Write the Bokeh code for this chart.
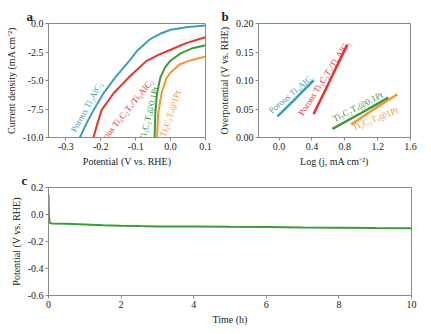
from bokeh.plotting import figure
from bokeh.models import Range1d, FixedTicker, NumeralTickFormatter
from bokeh.layouts import column, row
from bokeh.embed import file_html
from bokeh.resources import INLINE
from bokeh.core.properties import value

# ---------------- data ----------------
# panel a: polarization curves (potential V vs RHE, current density mA cm-2)
teal_a_x = [-0.26, -0.24, -0.221, -0.192, -0.158, -0.119, -0.096, -0.06, -0.03, 0.0, 0.05, 0.1]
teal_a_y = [-10.0, -8.7, -7.6, -6.1, -4.7, -3.3, -2.4, -1.4, -0.9, -0.55, -0.3, -0.17]
red_a_x = [-0.221, -0.212, -0.198, -0.163, -0.119, -0.07, -0.035, 0.0, 0.046, 0.1]
red_a_y = [-10.0, -9.0, -7.6, -6.1, -4.7, -3.3, -2.75, -2.3, -1.7, -1.2]
green_a_x = [-0.046, -0.044, -0.039, -0.029, -0.015, 0.0, 0.03, 0.06, 0.1]
green_a_y = [-10.0, -8.0, -6.1, -4.7, -3.8, -3.25, -2.6, -2.2, -1.9]
orange_a_x = [-0.039, -0.036, -0.026, -0.012, 0.0, 0.025, 0.05, 0.075, 0.1]
orange_a_y = [-10.0, -8.0, -6.1, -4.8, -4.3, -3.6, -3.3, -3.1, -2.9]

# panel b: Tafel lines (log j, overpotential)
teal_b_x = [-0.02, 0.2, 0.42]
teal_b_y = [0.037, 0.068, 0.100]
red_b_x = [0.42, 0.62, 0.83]
red_b_y = [0.041, 0.100, 0.163]
green_b_x = [0.65, 1.0, 1.33]
green_b_y = [0.015, 0.043, 0.070]
orange_b_x = [0.88, 1.15, 1.44]
orange_b_y = [0.023, 0.049, 0.076]

# panel c: chronopotentiometry (time h, potential V vs RHE)
time_c = [0.0, 0.01, 0.03, 0.1, 0.5, 1.0, 1.5, 2.0, 2.5, 3.0, 4.0, 5.0, 6.0, 7.0, 8.0, 9.0, 10.0]
pot_c = [0.15, 0.0, -0.062, -0.066, -0.069, -0.074, -0.079, -0.083, -0.086, -0.088, -0.088, -0.091, -0.093, -0.096, -0.098, -0.100, -0.101]

# ticks
a_xticks = [-0.3, -0.2, -0.1, 0.0, 0.1]
a_yticks = [0.0, -2.5, -5.0, -7.5, -10.0]
b_xticks = [0.0, 0.4, 0.8, 1.2, 1.6]
b_yticks = [0.0, 0.05, 0.10, 0.15, 0.20]
c_xticks = [0, 2, 4, 6, 8, 10]
c_yticks = [0.2, 0.0, -0.2, -0.4, -0.6]

TEAL = "#3f9fb0"
RED = "#e8342c"
GREEN = "#3a9a3c"
ORANGE = "#f49633"
SERIF = "Liberation Serif"
AX = "#8a8a8a"


def style(p, xticks, yticks, xfmt, yfmt, xlabel, ylabel):
    p.outline_line_color = AX
    p.outline_line_width = 1
    p.xgrid.visible = False
    p.ygrid.visible = False
    p.xaxis.ticker = FixedTicker(ticks=xticks)
    p.yaxis.ticker = FixedTicker(ticks=yticks)
    p.xaxis.formatter = NumeralTickFormatter(format=xfmt)
    p.yaxis.formatter = NumeralTickFormatter(format=yfmt)
    p.xaxis.axis_label = xlabel
    p.yaxis.axis_label = ylabel
    for ax in (p.xaxis[0], p.yaxis[0]):
        ax.axis_line_color = AX
        ax.major_tick_line_color = AX
        ax.minor_tick_line_color = None
        ax.major_tick_out = 3
        ax.major_tick_in = 0
        ax.major_label_text_font = SERIF
        ax.major_label_text_font_size = "10px"
        ax.major_label_text_color = "#222222"
        ax.axis_label_text_font = SERIF
        ax.axis_label_text_font_size = "10px"
        ax.axis_label_text_font_style = "normal"
        ax.axis_label_text_color = "#222222"
        ax.major_label_standoff = 2
        ax.axis_label_standoff = 3
    p.background_fill_color = "white"
    p.border_fill_color = "white"


def panel_label(p, txt, offset):
    p.title.text = txt
    p.title.text_font = SERIF
    p.title.text_font_size = "13px"
    p.title.text_font_style = "bold"
    p.title.text_color = "#222222"
    p.title.align = "left"
    p.title.offset = offset
    p.title.standoff = 0


def curve_text(p, x, y, txt, ang, color):
    p.text(x=[x], y=[y], text=[txt], angle=ang, angle_units="deg",
           text_color=color, text_font=value(SERIF), text_font_size="9px",
           text_align="center", text_baseline="middle")


# ---------------- panel a ----------------
pa = figure(width=215, height=170, output_backend="svg", toolbar_location=None,
            x_range=Range1d(-0.35, 0.1), y_range=Range1d(-10.0, 0.0),
            min_border_left=48, min_border_right=10, min_border_top=22, min_border_bottom=32)
style(pa, a_xticks, a_yticks, "0.0", "0.0", "Potential (V vs. RHE)", "Current density (mA cm⁻²)")
pa.line(teal_a_x, teal_a_y, line_color=TEAL, line_width=2)
pa.line(red_a_x, red_a_y, line_color=RED, line_width=2)
pa.line(green_a_x, green_a_y, line_color=GREEN, line_width=2)
pa.line(orange_a_x, orange_a_y, line_color=ORANGE, line_width=2)
curve_text(pa, -0.24, -7.3, "Porous Ti₃AlC₂", 61, TEAL)
curve_text(pa, -0.133, -7.9, "Porous Ti₃C₂Tₓ/Ti₃AlC₂", 51, RED)
curve_text(pa, -0.062, -7.9, "Ti₃C₂Tₓ@0.1Pt", 76, GREEN)
curve_text(pa, -0.001, -7.9, "Ti₃C₂Tₓ@1Pt", 71, ORANGE)
panel_label(pa, "a", -22)

# ---------------- panel b ----------------
pb = figure(width=216, height=170, output_backend="svg", toolbar_location=None,
            x_range=Range1d(-0.25, 1.6), y_range=Range1d(0.0, 0.2),
            min_border_left=35, min_border_right=21, min_border_top=23, min_border_bottom=33)
style(pb, b_xticks, b_yticks, "0.0", "0.00", "Log (j, mA cm⁻²)", "Overpotential (V vs. RHE)")
pb.line(teal_b_x, teal_b_y, line_color=TEAL, line_width=2.5)
pb.line(red_b_x, red_b_y, line_color=RED, line_width=2.5)
pb.line(green_b_x, green_b_y, line_color=GREEN, line_width=2.5)
pb.line(orange_b_x, orange_b_y, line_color=ORANGE, line_width=2.5)
curve_text(pb, 0.15, 0.077, "Porous Ti₃AlC₂", 40, TEAL)
curve_text(pb, 0.55, 0.104, "Porous Ti₃C₂Tₓ/Ti₃AlC₂", 57, RED)
curve_text(pb, 0.96, 0.054, "Ti₃C₂Tₓ@0.1Pt", 27, GREEN)
curve_text(pb, 1.17, 0.033, "Ti₃C₂Tₓ@1Pt", 22, ORANGE)
panel_label(pb, "b", -37)

# ---------------- panel c ----------------
pc = figure(width=431, height=164, output_backend="svg", toolbar_location=None,
            x_range=Range1d(0, 10), y_range=Range1d(-0.6, 0.2),
            min_border_left=48, min_border_right=20, min_border_top=10, min_border_bottom=39)
style(pc, c_xticks, c_yticks, "0", "0.0", "Time (h)", "Potential (V vs. RHE)")
pc.line(time_c, pot_c, line_color=GREEN, line_width=2)
panel_label(pc, "c", -27)

layout = column(row(pa, pb), pc)
open("out.html", "w").write(file_html(layout, INLINE))
